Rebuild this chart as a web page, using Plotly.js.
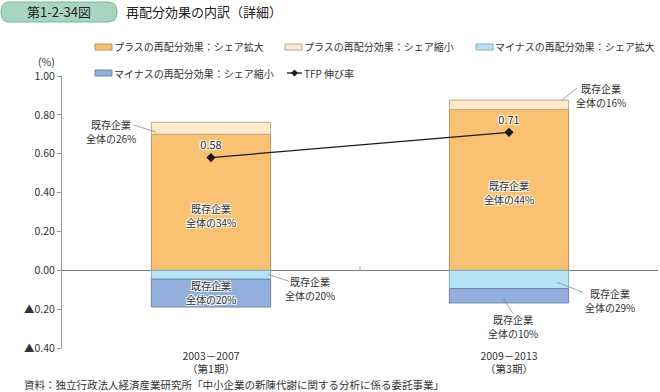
<!DOCTYPE html>
<html>
<head>
<meta charset="utf-8">
<script src="https://cdn.plot.ly/plotly-3.0.1.min.js"></script>
<style>
html,body{margin:0;padding:0;background:#fff;}
#chart{width:660px;height:392px;}
</style>
</head>
<body>
<div id="chart"></div>
<script>
// ---- data ----
const categories = ['2003－2007<br>（第1期）', '2009－2013<br>（第3期）'];
const plusExpand = [0.70, 0.828];    // プラスの再配分効果：シェア拡大
const plusShrink = [0.062, 0.048];   // プラスの再配分効果：シェア縮小
const minusExpand = [-0.046, -0.094]; // マイナスの再配分効果：シェア拡大
const minusShrink = [-0.143, -0.074]; // マイナスの再配分効果：シェア縮小
const tfp = [0.58, 0.71];            // TFP伸び率
const tfpLabels = ['0.58', '0.71'];
const yTickVals = [-0.4, -0.2, 0, 0.2, 0.4, 0.6, 0.8, 1.0];
const yTickText = ['▲0.40', '▲0.20', '0.00', '0.20', '0.40', '0.60', '0.80', '1.00'];
const seriesNames = ['プラスの再配分効果：シェア拡大', 'プラスの再配分効果：シェア縮小',
  'マイナスの再配分効果：シェア拡大', 'マイナスの再配分効果：シェア縮小', 'TFP 伸び率'];
const noteHead = '既存企業';
const shareNotes = ['全体の26%', '全体の34%', '全体の20%', '全体の20%',
  '全体の16%', '全体の44%', '全体の29%', '全体の10%'];

// ---- styles ----
const FONT = '"Noto Sans CJK JP", "Noto Sans", sans-serif';
const fills = ['#f9c273', '#fde9cb', '#b5e3f6', '#93afdb'];
const edges = ['#b89460', '#b9a98f', '#8aa9b8', '#6f86ad'];
const halo = '-1px -1px 0 #fff, 1px -1px 0 #fff, -1px 1px 0 #fff, 1px 1px 0 #fff';

// pixel helpers for layout decorations (plot area 62..658 x 76..348)
const L = 62, R = 658, T = 76, B = 348;
const px = v => (v - L) / (R - L);
const py = v => (B - v) / (B - T);
const dx = v => (v - 211) / 298;       // pixel -> category index
const dy = v => (270 - v) / 194;       // pixel -> data value

const barVals = [plusExpand, plusShrink, minusExpand, minusShrink];
const traces = barVals.map((vals, i) => ({
  type: 'bar', x: categories, y: vals, name: seriesNames[i], width: 0.4,
  marker: {color: fills[i], line: {color: edges[i], width: 1}},
  showlegend: false, hoverinfo: 'skip'
}));
traces.push({
  type: 'scatter', mode: 'lines+markers+text', x: categories, y: tfp, name: seriesNames[4],
  text: tfpLabels, textposition: 'top center',
  textfont: {family: FONT, size: 11, color: '#333', shadow: halo},
  line: {color: '#1a1a1a', width: 1.3},
  marker: {symbol: 'diamond', size: 7, color: '#1a1a1a'},
  showlegend: false, hoverinfo: 'skip', cliponaxis: false
});

const shapes = [];
const annotations = [];

// title pill
shapes.push({type: 'path', xref: 'paper', yref: 'paper',
  path: `M ${px(9)} ${py(2)} L ${px(108)} ${py(2)} Q ${px(117)} ${py(2)} ${px(117)} ${py(12)} Q ${px(117)} ${py(22)} ${px(108)} ${py(22)} L ${px(9)} ${py(22)} Q ${px(1)} ${py(22)} ${px(1)} ${py(12)} Q ${px(1)} ${py(2)} ${px(9)} ${py(2)} Z`,
  fillcolor: '#a7d5c1', line: {color: '#74b99a', width: 1}});
annotations.push({xref: 'paper', yref: 'paper', x: px(59), y: py(12), text: '第1-2-34図', showarrow: false,
  xanchor: 'center', yanchor: 'middle', font: {family: FONT, size: 13, color: '#222'}});
annotations.push({xref: 'paper', yref: 'paper', x: px(124), y: py(12), text: '再配分効果の内訳（詳細）', showarrow: false,
  xanchor: 'left', yanchor: 'middle', font: {family: FONT, size: 13, color: '#222'}});

// legend (manual)
const legPos = [[95, 47], [285, 47], [476, 47], [95, 73], [287, 73]];
for (let i = 0; i < 4; i++) {
  const [x0, y0] = legPos[i];
  shapes.push({type: 'rect', xref: 'paper', yref: 'paper', x0: px(x0), x1: px(x0 + 17), y0: py(y0 - 3), y1: py(y0 + 3),
    fillcolor: fills[i], line: {color: edges[i], width: 1}});
  annotations.push({xref: 'paper', yref: 'paper', x: px(x0 + 17), y: py(y0), text: seriesNames[i], showarrow: false,
    xanchor: 'left', yanchor: 'middle', font: {family: FONT, size: 10, color: '#333'}});
}
{
  const [x0, y0] = legPos[4];
  shapes.push({type: 'line', xref: 'paper', yref: 'paper', x0: px(x0), x1: px(x0 + 15), y0: py(y0), y1: py(y0),
    line: {color: '#1a1a1a', width: 1.3}});
  const cx = x0 + 7.5, s = 3.5;
  shapes.push({type: 'path', xref: 'paper', yref: 'paper',
    path: `M ${px(cx)} ${py(y0 - s)} L ${px(cx + s)} ${py(y0)} L ${px(cx)} ${py(y0 + s)} L ${px(cx - s)} ${py(y0)} Z`,
    fillcolor: '#1a1a1a', line: {width: 0}});
  annotations.push({xref: 'paper', yref: 'paper', x: px(x0 + 15), y: py(y0), text: seriesNames[4], showarrow: false,
    xanchor: 'left', yanchor: 'middle', font: {family: FONT, size: 10, color: '#333'}});
}

// (%) unit
annotations.push({xref: 'paper', yref: 'paper', x: px(46), y: py(62), text: '(%)', showarrow: false,
  xanchor: 'center', yanchor: 'middle', font: {family: FONT, size: 10.5, color: '#333'}});

// source
annotations.push({xref: 'paper', yref: 'paper', x: px(22), y: py(384), text: '資料：独立行政法人経済産業研究所「中小企業の新陳代謝に関する分析に係る委託事業」', showarrow: false,
  xanchor: 'left', yanchor: 'middle', font: {family: FONT, size: 10.5, color: '#333'}});

// share notes: [text index, center px x, center px y, inside?]
const notePos = [
  [0, 111, 131.5, false], [1, 211, 215, true], [2, 211, 292.5, true], [3, 310, 288, false],
  [4, 601, 95, false], [5, 509, 192, true], [6, 610, 300, false], [7, 513, 326, false]
];
notePos.forEach(([k, x, y, inside]) => {
  const f = {family: FONT, size: 10, color: '#333', shadow: inside ? halo : 'none'};
  annotations.push({xref: 'x', yref: 'y', x: dx(x), y: dy(y - 7), text: noteHead, showarrow: false,
    xanchor: 'center', yanchor: 'middle', borderpad: 0, font: f});
  annotations.push({xref: 'x', yref: 'y', x: dx(x), y: dy(y + 7), text: shareNotes[k], showarrow: false,
    xanchor: 'center', yanchor: 'middle', borderpad: 0, font: f});
});
// leader lines
const leaders = [[134, 125, 156, 132], [268, 274, 289, 281], [562, 100, 577, 88], [557, 282, 583, 292], [503, 298, 513, 313]];
leaders.forEach(([x0, y0, x1, y1]) => {
  shapes.push({type: 'line', xref: 'x', yref: 'y', x0: dx(x0), y0: dy(y0), x1: dx(x1), y1: dy(y1),
    line: {color: '#8a8a8a', width: 0.8}});
});
// category boundary tick
shapes.push({type: 'line', xref: 'x', yref: 'y', x0: 0.5, x1: 0.5, y0: 0, y1: dy(266), line: {color: '#999', width: 1}});

const layout = {
  width: 660, height: 392,
  margin: {l: L, r: 660 - R, t: T, b: 392 - B, pad: 0},
  paper_bgcolor: '#fff', plot_bgcolor: '#fff',
  barmode: 'relative', bargap: 0.6,
  font: {family: FONT, size: 10.5, color: '#333'},
  showlegend: false, hovermode: false,
  xaxis: {type: 'category', range: [-0.5, 1.5], showgrid: false, showline: false, zeroline: false,
    ticks: '', tickfont: {family: FONT, size: 10.5, color: '#333'}, fixedrange: true},
  yaxis: {range: [-0.4, 1.0], tickvals: yTickVals, ticktext: yTickText, showgrid: false,
    showline: true, linecolor: '#9a9a9a', linewidth: 1, ticks: 'outside', ticklen: 4, tickcolor: '#9a9a9a',
    zeroline: true, zerolinecolor: '#7a7a7a', zerolinewidth: 1,
    tickfont: {family: FONT, size: 10.5, color: '#333'}, fixedrange: true},
  shapes: shapes,
  annotations: annotations
};

Plotly.newPlot('chart', traces, layout, {displayModeBar: false, staticPlot: true});
</script>
</body>
</html>
